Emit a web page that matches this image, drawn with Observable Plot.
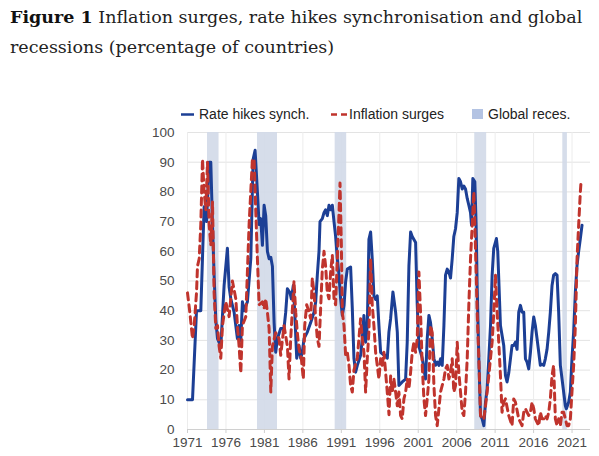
<!DOCTYPE html>
<html>
<head>
<meta charset="utf-8">
<script src="https://cdn.jsdelivr.net/npm/d3@7"></script>
<script src="https://cdn.jsdelivr.net/npm/@observablehq/plot@0.6"></script>
<style>
  html, body { margin: 0; padding: 0; background: #fff; }
  #wrap { position: relative; width: 599px; height: 456px; overflow: hidden; }
  #title { position: absolute; left: 10px; top: 2px; font-family: "DejaVu Serif", serif; font-size: 17.5px; line-height: 30px; color: #222; white-space: nowrap; }
  #title b { font-weight: bold; color: #111; }
  #legend { position: absolute; left: 0; top: 105px; width: 599px; height: 18px; font-family: "Liberation Sans", Arial, sans-serif; font-size: 14px; color: #222; }
  #legend .item { position: absolute; top: 0; height: 18px; line-height: 18px; white-space: nowrap; }
  #legend svg { position: absolute; top: 0; }
  #chart { position: absolute; left: 0; top: 122px; }
</style>
</head>
<body>
<div id="wrap">
  <div id="title"><b>Figure 1</b> Inflation surges, rate hikes synchronisation and global<br>recessions (percentage of countries)</div>
  <div id="legend"></div>
  <div id="chart"></div>
</div>
<script>
// ---- data ----
const rateYears = [1971.0,1971.65,1972.17,1972.73,1973.16,1973.47,1973.81,1974.03,1974.25,1974.46,1974.68,1974.9,1975.33,1975.76,1976.19,1976.41,1976.63,1977.06,1977.49,1977.71,1977.93,1978.14,1978.36,1978.79,1979.23,1979.53,1979.79,1980.09,1980.31,1980.52,1980.74,1980.96,1981.17,1981.39,1981.61,1981.83,1982.04,1982.26,1982.47,1982.69,1983.12,1983.55,1983.77,1983.99,1984.33,1984.5,1984.76,1984.94,1985.2,1985.5,1985.72,1985.93,1986.15,1986.58,1987.02,1987.45,1987.67,1987.88,1988.1,1988.23,1988.53,1988.75,1988.96,1989.18,1989.4,1989.61,1989.83,1990.05,1990.26,1990.48,1990.7,1990.91,1991.13,1991.35,1991.56,1991.78,1992.21,1992.43,1992.64,1992.86,1993.08,1993.51,1993.73,1993.94,1994.16,1994.38,1994.59,1994.81,1995.02,1995.24,1995.46,1995.67,1995.89,1996.11,1996.54,1996.76,1996.98,1997.19,1997.41,1997.71,1998.06,1998.28,1998.49,1998.92,1999.36,1999.57,1999.79,2000.01,2000.22,2000.66,2000.87,2001.09,2001.52,2001.74,2001.95,2002.17,2002.39,2002.6,2002.82,2003.04,2003.25,2003.47,2003.69,2003.9,2004.12,2004.34,2004.55,2004.77,2004.99,2005.2,2005.42,2005.63,2005.85,2006.07,2006.28,2006.5,2006.72,2006.93,2007.15,2007.37,2007.58,2007.8,2007.93,2008.1,2008.36,2008.53,2008.66,2008.88,2009.1,2009.31,2009.53,2009.75,2009.96,2010.18,2010.4,2010.61,2010.82,2011.17,2011.34,2011.47,2011.69,2012.12,2012.34,2012.55,2012.77,2012.99,2013.2,2013.42,2013.64,2013.85,2014.07,2014.29,2014.5,2014.72,2014.94,2015.15,2015.37,2015.59,2015.8,2016.02,2016.23,2016.45,2016.67,2016.88,2017.1,2017.32,2017.53,2017.75,2017.97,2018.18,2018.4,2018.61,2018.83,2019.05,2019.26,2019.48,2019.7,2019.91,2020.13,2020.26,2020.56,2020.78,2020.99,2021.21,2021.43,2021.65,2021.86,2022.08,2022.3];
const rateValues = [10,10,40,40,75,70,90,90,69,52,37,30.6,28,48.5,61,48,44,39.5,30.6,35,30,43,40,43,57.5,91,94,80,69,71,62,75.5,72,60,57.5,58,55,36,26,30.6,34,34,39.5,47.4,46,44,48.5,39.5,24,28.3,24,26,30.6,32.8,36,39.5,43,52,60,70,71,73,74,72,75.5,74,75.5,70,65,57.5,52,44,38.4,41.8,49.7,54,54.7,40.7,24,19.3,21.6,25,30.6,38.4,29.4,35,64,66.5,57.5,45,43.8,45,35,26,25,25,24,32.8,37.3,46.3,39.5,32.8,14.8,16,17,29.4,55,66.5,65,63,42,28,24,20.4,17,30.6,38.4,36,30.6,24,21.6,22.7,21.6,23.8,21.6,35,52,54,53,51,57.5,65,67.6,73,84.5,83.4,81,82,81,77.8,75.5,73,68.8,84.5,83.4,68.8,48.5,24,4.7,3.6,1.3,9.2,13.7,24,35,52,61,64.3,60,50.8,35,28.3,18.2,16,19,23.8,28.3,28.3,29.4,27,39.5,41.8,39.5,39.5,23.8,22.7,20.4,26,32.8,37.9,35,30.6,26,21.6,22,21.6,23.8,27,32.8,39.5,48.5,52,52.5,52,39.5,21.6,17,12.6,8,7,9.2,12.6,23.8,32.8,46.3,55.3,60,64.3,68.8];

const inflYears = [1971.0,1971.3,1971.65,1971.87,1972.17,1972.3,1972.52,1972.73,1972.95,1973.16,1973.38,1973.6,1973.81,1974.03,1974.25,1974.46,1974.68,1974.9,1975.11,1975.33,1975.55,1975.98,1976.41,1976.84,1977.28,1977.49,1977.71,1977.93,1978.14,1978.58,1979.01,1979.44,1979.66,1979.87,1980.09,1980.31,1980.74,1980.96,1981.17,1981.39,1981.61,1981.83,1982.04,1982.47,1982.9,1983.12,1983.55,1983.99,1984.2,1984.42,1984.85,1985.07,1985.28,1985.5,1985.8,1986.06,1986.24,1986.5,1986.8,1987.02,1987.23,1987.45,1987.67,1987.88,1988.1,1988.31,1988.53,1988.75,1988.96,1989.18,1989.4,1989.61,1989.83,1990.05,1990.26,1990.48,1990.7,1990.83,1991.0,1991.13,1991.35,1991.56,1991.78,1992.0,1992.21,1992.43,1992.64,1993.08,1993.29,1993.51,1993.73,1993.94,1994.16,1994.38,1994.59,1994.81,1995.02,1995.24,1995.46,1995.67,1995.89,1996.11,1996.32,1996.54,1996.9,1997.2,1997.41,1997.63,1997.84,1998.06,1998.28,1998.49,1998.71,1998.92,1999.14,1999.36,1999.57,1999.79,2000.01,2000.22,2000.44,2000.66,2000.87,2001.09,2001.3,2001.52,2001.74,2001.95,2002.17,2002.39,2002.6,2002.82,2003.04,2003.25,2003.47,2003.69,2003.9,2004.34,2004.55,2004.77,2004.99,2005.2,2005.42,2005.63,2005.85,2006.07,2006.28,2006.5,2006.72,2006.93,2007.15,2007.37,2007.58,2007.8,2008.02,2008.23,2008.36,2008.53,2008.66,2008.88,2009.1,2009.31,2009.53,2009.75,2009.96,2010.4,2010.61,2010.83,2011.04,2011.26,2011.47,2011.69,2011.9,2012.12,2012.34,2012.77,2013.2,2013.42,2013.64,2014.07,2014.5,2014.72,2014.94,2015.15,2015.37,2015.59,2015.8,2016.02,2016.23,2016.67,2016.88,2017.1,2017.32,2017.53,2017.75,2017.97,2018.18,2018.4,2018.61,2018.83,2019.05,2019.26,2019.48,2019.7,2019.91,2020.13,2020.35,2020.56,2020.78,2020.99,2021.21,2021.43,2021.65,2021.86,2022.08,2022.17];
const inflValues = [46,39.5,30.6,35,46,55,57.5,69,91,80,74,90,69,62,76.6,46,34,35,28,24,35,43,38,50,44,35,28,19,35,38,69,91,91,74,57.5,42,43,40.7,44,39.5,34,12.6,28,32.6,30.6,25,35,28,17,30.6,50,39.5,32.6,27,24,17,35,42,39.5,37.3,51,46,37.3,30.6,28,40.7,54,60,55,46,44,53,58.7,44,42,57.5,73,83,63,39.5,35,25,26,21.6,14.8,12.6,20,24,30.6,37.3,30.6,26,12.6,24,33,57.5,42,35,26,21.6,17,23.8,21.6,26,15,5,18,12.6,17,12.6,8,12.6,4.7,3.6,10.3,12.6,17,13.7,19.3,26,29.4,26,30.6,53,39.5,21.6,10.3,4.7,10.3,17,35,32.6,14.8,4.7,1.3,7,12.6,17,20.4,21.6,17,19.3,23.8,12.6,14.8,29.4,19.3,12.6,5.8,4.7,12.6,23.8,42,57.5,68.8,80,68.8,53,39.5,24,4.7,3.6,3.6,8,12.6,24,29.4,39.5,52,39.5,29.4,18.2,5.8,9.2,10.3,4.7,1.3,10.3,9.2,3.6,1.3,5.8,7,5.8,4.7,5.8,9.2,7,3.6,1.3,5.8,3.6,3.6,4.7,3.6,5.8,10.3,18.2,21.6,3.6,1.3,3.6,1.3,5.8,5.8,3.6,1.3,1.3,3.6,12.6,21.6,35,57.5,68.8,80,83.4];

const recessionStart = [1973.6, 1980.1, 1990.2, 2008.35, 2019.8];
const recessionEnd   = [1975.1, 1982.7, 1991.7, 2009.9, 2020.4];

const xTicks = [1971,1976,1981,1986,1991,1996,2001,2006,2011,2016,2021];
const yTicks = [0,10,20,30,40,50,60,70,80,90,100];

const seriesNames = ["Rate hikes synch.", "Inflation surges", "Global reces."];
const colors = {rate: "#1c3f95", infl: "#c0342d", band: "#d2d9e8", bandLegend: "#b3c3e3"};

// ---- tables built from the arrays ----
const rate = rateYears.map((x, i) => ({x, y: rateValues[i]}));
const infl = inflYears.map((x, i) => ({x, y: inflValues[i]}));
const recessions = recessionStart.map((s, i) => ({start: s, end: recessionEnd[i]}));

const chart = Plot.plot({
  width: 599,
  height: 334,
  marginLeft: 187,
  marginRight: 9,
  marginTop: 10,
  marginBottom: 27,
  style: {fontFamily: "Liberation Sans, Arial, sans-serif", fontSize: "13.5px", color: "#4a4a4a", background: "#fff"},
  x: {domain: [1971, 2023.4]},
  y: {domain: [0, 100]},
  marks: [
    Plot.gridY(yTicks, {stroke: "#e3e3e3", strokeOpacity: 1}),
    Plot.gridX(xTicks, {stroke: "#ececec", strokeOpacity: 1}),
    Plot.rect(recessions, {x1: "start", x2: "end", fill: colors.band, fillOpacity: 0.9}),
    Plot.ruleY([0], {stroke: "#d0d0d0"}),
    Plot.axisY(yTicks, {tickSize: 0, tickPadding: 13, label: null, fill: "#4a4a4a"}),
    Plot.axisX(xTicks, {tickSize: 4, tickPadding: 4, tickFormat: d => String(d), label: null, stroke: "#cfcfcf", fill: "#4a4a4a"}),
    Plot.line(rate, {x: "x", y: "y", stroke: colors.rate, strokeWidth: 3, curve: "linear"}),
    Plot.line(infl, {x: "x", y: "y", stroke: colors.infl, strokeWidth: 3, strokeDasharray: "7,5", curve: "linear"})
  ]
});
document.getElementById("chart").appendChild(chart);

// ---- legend (HTML above the SVG) ----
const legend = document.getElementById("legend");
const ns = "http://www.w3.org/2000/svg";
function sym(left, kind) {
  const s = document.createElementNS(ns, "svg");
  s.setAttribute("width", 18); s.setAttribute("height", 18);
  s.style.left = left + "px";
  if (kind === "rect") {
    const r = document.createElementNS(ns, "rect");
    r.setAttribute("x", 2); r.setAttribute("y", 4); r.setAttribute("width", 11); r.setAttribute("height", 10);
    r.setAttribute("fill", colors.bandLegend);
    s.appendChild(r);
  } else {
    const l = document.createElementNS(ns, "line");
    l.setAttribute("x1", 1); l.setAttribute("x2", kind === "dash" ? 17 : 14);
    l.setAttribute("y1", 9.5); l.setAttribute("y2", 9.5);
    l.setAttribute("stroke", kind === "dash" ? colors.infl : colors.rate);
    l.setAttribute("stroke-width", 2.5);
    if (kind === "dash") l.setAttribute("stroke-dasharray", "6,4");
    s.appendChild(l);
  }
  legend.appendChild(s);
}
function lab(left, text) {
  const d = document.createElement("div");
  d.className = "item"; d.style.left = left + "px"; d.textContent = text;
  legend.appendChild(d);
}
sym(180, "line"); lab(199, seriesNames[0]);
sym(330, "dash"); lab(349, seriesNames[1]);
sym(470, "rect"); lab(488, seriesNames[2]);
</script>
</body>
</html>
